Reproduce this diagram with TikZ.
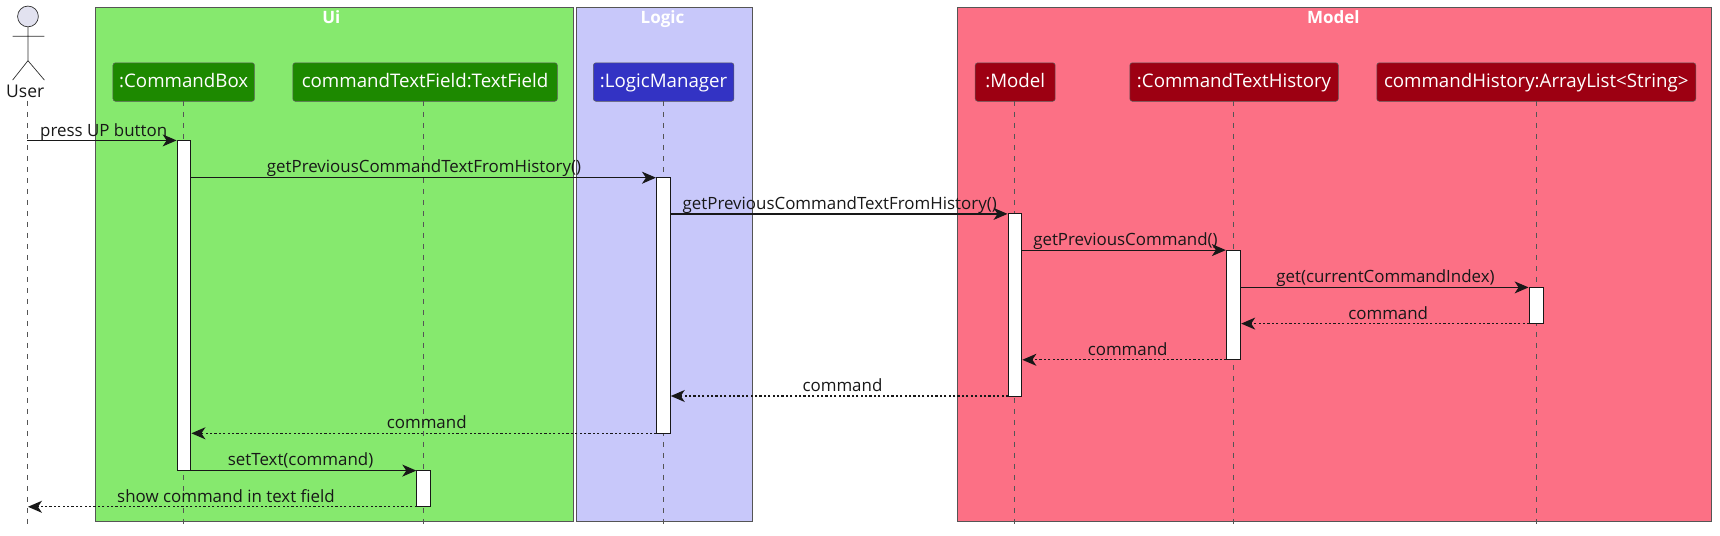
\documentclass[tikz,border=0pt]{standalone}
\usepackage{fontspec}
\setmainfont{Open Sans}
\usetikzlibrary{arrows.meta}
\definecolor{uibg}{HTML}{86E96E}
\definecolor{logicbg}{HTML}{C8C8FA}
\definecolor{modelbg}{HTML}{FC7085}
\definecolor{uibox}{HTML}{1D8900}
\definecolor{logicbox}{HTML}{3333C4}
\definecolor{modelbox}{HTML}{9D0012}
\definecolor{actorfill}{HTML}{E2E2F0}
\definecolor{ink}{HTML}{181818}
\definecolor{lifeg}{HTML}{555555}
\tikzset{
  x=1.0969pt,y=-1.0969pt,
  group/.style={draw=lifeg,line width=0.8pt},
  grouptitle/.style={text=white,font=\fontsize{17}{20}\selectfont\bfseries,inner sep=0pt,anchor=base},
  part/.style={rounded corners=2.5pt,draw=ink!70,line width=0.5pt,text=white,font=\fontsize{18.7}{22}\selectfont,inner sep=0pt,minimum height=38.5pt,anchor=north,text height=14pt,text depth=4pt},
  life/.style={lifeg,line width=0.7pt,dash pattern=on 5.5pt off 5.5pt},
  act/.style={draw=ink,fill=white,line width=0.9pt},
  msg/.style={ink,line width=1.2pt,-{Stealth[length=14pt,width=12pt,inset=4pt]}},
  ret/.style={ink,line width=1.2pt,dash pattern=on 2.2pt off 2.2pt,-{Stealth[length=14pt,width=12pt,inset=4pt]}},
  lab/.style={text=ink,font=\fontsize{16.9}{20}\selectfont,inner sep=0pt,anchor=base},
}
\begin{document}
\begin{tikzpicture}
\useasboundingbox (0,0) rectangle (1568,488.6);
% groups
\draw[group,fill=uibg] (87,7) rectangle (523,475);
\draw[group,fill=logicbg] (525.5,7) rectangle (686,475);
\draw[group,fill=modelbg] (873,7) rectangle (1560,475);
\node[grouptitle] (tui) at (302,21.5) {Ui};
\node[grouptitle] (tlogic) at (604,21.5) {Logic};
\node[grouptitle] (tmodel) at (1215.5,21.5) {Model};
% participants
\node[part,fill=uibox,minimum width=141.5pt] (cb) at (167.5,57) {:CommandBox};
\node[part,fill=uibox,minimum width=264.5pt] (tf) at (387.5,57) {commandTextField:TextField};
\node[part,fill=logicbox,minimum width=140.5pt] (lm) at (605,57) {:LogicManager};
\node[part,fill=modelbox,minimum width=80pt] (mo) at (925.5,57) {:Model};
\node[part,fill=modelbox,minimum width=208.5pt] (ch) at (1125,57) {:CommandTextHistory};
\node[part,fill=modelbox,minimum width=319pt] (al) at (1400.5,57) {commandHistory:ArrayList<String>};
% lifelines
\coordinate (ub) at (25,92);    \coordinate (ue) at (25,483);
\coordinate (cbb) at (167.5,92); \coordinate (cbe) at (167.5,483);
\coordinate (tfb) at (386,92);  \coordinate (tfe) at (386,483);
\coordinate (lmb) at (604.5,92); \coordinate (lme) at (604.5,483);
\coordinate (mob) at (925,92);  \coordinate (moe) at (925,483);
\coordinate (chb) at (1124,92); \coordinate (che) at (1124,483);
\coordinate (alb) at (1400.5,92); \coordinate (ale) at (1400.5,483);
\draw[life] (ub) -- (ue);
\draw[life] (cbb) -- (cbe);
\draw[life] (tfb) -- (tfe);
\draw[life] (lmb) -- (lme);
\draw[life] (mob) -- (moe);
\draw[life] (chb) -- (che);
\draw[life] (alb) -- (ale);
% actor
\draw[ink!90,line width=0.7pt,fill=actorfill] (25.5,15) circle (10.4pt) coordinate (head);
\draw[ink!90,line width=0.7pt] (25.5,24.5) -- (25.5,55.3) (11.5,33) -- (40.5,33) (25.5,55.3) -- (11.5,73) (25.5,55.3) -- (40.5,73);
\node[lab,font=\fontsize{17.5}{20}\selectfont] (user) at (23,89) {User};
% activations
\draw[act] (161.5,128) rectangle (174,429);
\draw[act] (380,429) rectangle (392.5,462);
\draw[act] (598.5,162) rectangle (611,395);
\draw[act] (919,195) rectangle (931.5,361);
\draw[act] (1118,228) rectangle (1131,328);
\draw[act] (1394,262) rectangle (1407,295);
% messages
\coordinate (a1) at (25,128); \coordinate (b1) at (161,128);
\coordinate (a2) at (174,162); \coordinate (b2) at (598,162);
\coordinate (a3) at (611,195); \coordinate (b3) at (918.5,195);
\coordinate (a4) at (931.5,228); \coordinate (b4) at (1117.5,228);
\coordinate (a5) at (1131,262); \coordinate (b5) at (1393.5,262);
\coordinate (a6) at (1394,295); \coordinate (b6) at (1131.5,295);
\coordinate (a7) at (1118,328); \coordinate (b7) at (932,328);
\coordinate (a8) at (919,361); \coordinate (b8) at (611.5,361);
\coordinate (a9) at (598.5,395); \coordinate (b9) at (174.5,395);
\coordinate (a10) at (174,429); \coordinate (b10) at (379.5,429);
\coordinate (a11) at (380,462); \coordinate (b11) at (25.5,462);
\draw[msg] (a1) -- (b1);
\draw[msg] (a2) -- (b2);
\draw[msg] (a3) -- (b3);
\draw[msg] (a4) -- (b4);
\draw[msg] (a5) -- (b5);
\draw[ret] (a6) -- (b6);
\draw[ret] (a7) -- (b7);
\draw[ret] (a8) -- (b8);
\draw[ret] (a9) -- (b9);
\draw[msg] (a10) -- (b10);
\draw[ret] (a11) -- (b11);
\node[lab] (m1) at (94.5,124) {press UP button};
\node[lab] (m2) at (386.5,157.5) {getPreviousCommandTextFromHistory()};
\node[lab] (m3) at (765.5,191) {getPreviousCommandTextFromHistory()};
\node[lab] (m4) at (1026,224) {getPreviousCommand()};
\node[lab] (m5) at (1263,257.5) {get(currentCommandIndex)};
\node[lab] (m6) at (1265.5,291) {command};
\node[lab] (m7) at (1028,324) {command};
\node[lab] (m8) at (768,357) {command};
\node[lab] (m9) at (389,391) {command};
\node[lab] (m10) at (274,424) {setText(command)};
\node[lab] (m11) at (206,458) {show command in text field};
\end{tikzpicture}
\end{document}
